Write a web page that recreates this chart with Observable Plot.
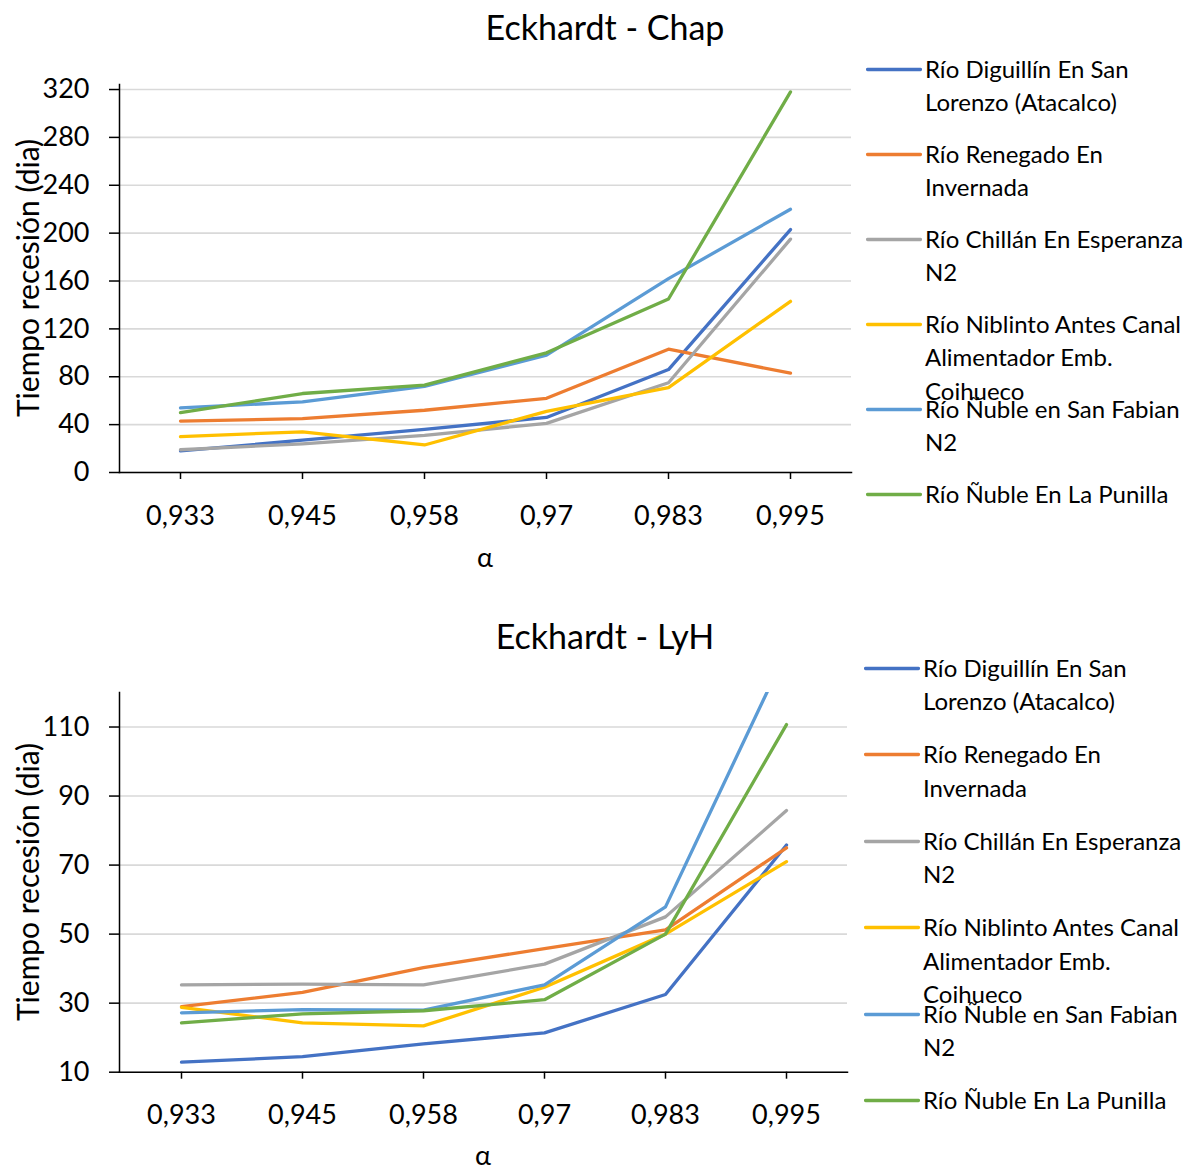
<!DOCTYPE html>
<html>
<head>
<meta charset="utf-8">
<script src="https://cdn.jsdelivr.net/npm/d3@7"></script>
<script src="https://cdn.jsdelivr.net/npm/@observablehq/plot@0.6"></script>
<style>
  html, body { margin: 0; padding: 0; background: #fff; }
  body { font-family: Lato, "Open Sans", sans-serif; color: #000; }
  #root { position: relative; width: 1191px; height: 1174px; overflow: hidden; }
  .chart { position: absolute; left: 0; width: 1191px; }
  .title { position: absolute; left: 0; width: 1210px; text-align: center; font-size: 34px; line-height: 40px; white-space: nowrap; }
  .xlabel { position: absolute; width: 200px; text-align: center; font-size: 27px; line-height: 24px; }
  .ylabel { position: absolute; font-size: 30px; line-height: 34px; white-space: nowrap; transform: translate(-50%, -50%) rotate(-90deg); }
  .legend { position: absolute; }
  .item { position: absolute; left: 0; width: 330px; }
  .item svg { position: absolute; left: 0; top: 0; }
  .item .txt { position: absolute; left: 59px; top: 0; font-size: 24px; line-height: 33.4px; white-space: nowrap; }
  .plotwrap { position: absolute; left: 0; top: 0; }
</style>
</head>
<body>
<div id="root"></div>
<script>
// ---- data ----
const alphas = ["0,933", "0,945", "0,958", "0,97", "0,983", "0,995"];

const seriesNames = [
  "Río Diguillín En San Lorenzo (Atacalco)",
  "Río Renegado En Invernada",
  "Río Chillán En Esperanza N2",
  "Río Niblinto Antes Canal Alimentador Emb. Coihueco",
  "Río Ñuble en San Fabian N2",
  "Río Ñuble En La Punilla"
];
const legendLines = [
  ["Río Diguillín En San", "Lorenzo (Atacalco)"],
  ["Río Renegado En", "Invernada"],
  ["Río Chillán En Esperanza", "N2"],
  ["Río Niblinto Antes Canal", "Alimentador Emb.", "Coihueco"],
  ["Río Ñuble en San Fabian", "N2"],
  ["Río Ñuble En La Punilla"]
];
const seriesColors = ["#4472C4", "#ED7D31", "#A5A5A5", "#FFC000", "#5B9BD5", "#70AD47"];

// Eckhardt - Chap
const chapDiguillin = [18, 27, 36, 46, 86, 203];
const chapRenegado  = [43, 45, 52, 62, 103, 83];
const chapChillan   = [19, 24, 31, 41, 75, 195];
const chapNiblinto  = [30, 34, 23, 51, 71, 143];
const chapNubleSF   = [54, 59, 72, 98, 162, 220];
const chapNubleLP   = [50, 66, 73, 100, 145, 318];
const chapTicks = [0, 40, 80, 120, 160, 200, 240, 280, 320];

// Eckhardt - LyH
const lyhDiguillin = [12.9, 14.5, 18.2, 21.4, 32.5, 75.8];
const lyhRenegado  = [29, 33.1, 40.3, 45.8, 51.2, 75];
const lyhChillan   = [35.3, 35.5, 35.3, 41.3, 55, 85.8];
const lyhNiblinto  = [28.8, 24.3, 23.4, 34.6, 50, 71];
const lyhNubleSF   = [27.2, 28.1, 28, 35.3, 57.9, 132];
const lyhNubleLP   = [24.3, 26.9, 27.8, 31, 50, 110.7];
const lyhTicks = [10, 30, 50, 70, 90, 110];

function toRows(seriesArrays) {
  const rows = [];
  seriesArrays.forEach((arr, si) => {
    arr.forEach((v, i) => rows.push({series: seriesNames[si], alpha: alphas[i], value: v}));
  });
  return rows;
}

function buildChart(cfg) {
  const div = document.createElement("div");
  div.className = "chart";
  div.style.top = cfg.top + "px";
  div.style.height = cfg.height + "px";

  const rows = toRows(cfg.series);
  const plot = Plot.plot({
    width: 860,
    height: cfg.height,
    marginLeft: 119,
    marginRight: cfg.marginRight,
    marginTop: 84,
    marginBottom: cfg.marginBottom,
    style: {fontFamily: "Lato, sans-serif", fontSize: "27px", color: "#000", background: "transparent", overflow: "visible"},
    x: {type: "point", domain: alphas, padding: 0.5},
    y: {domain: cfg.yDomain},
    color: {domain: seriesNames, range: seriesColors},
    marks: [
      Plot.gridY(cfg.ticks, {stroke: "#d9d9d9", strokeOpacity: 1, strokeWidth: 1.6}),
      Plot.axisY(cfg.ticks, {tickSize: 10, tickPadding: 20, label: null, stroke: "#000", strokeWidth: 1.5, fontSize: 27}),
      Plot.axisX({tickSize: 7, tickPadding: 26, label: null, stroke: "#000", strokeWidth: 1.5, fontSize: 27}),
      Plot.frame({anchor: "left", stroke: "#000", strokeWidth: 1.5}),
      Plot.frame({anchor: "bottom", stroke: "#000", strokeWidth: 1.5}),
      Plot.line(rows, {x: "alpha", y: "value", z: "series", stroke: "series", strokeWidth: 3.3,
        strokeLinecap: "round", strokeLinejoin: "round", clip: true})
    ]
  });
  const wrap = document.createElement("div");
  wrap.className = "plotwrap";
  wrap.appendChild(plot);
  div.appendChild(wrap);

  const title = document.createElement("div");
  title.className = "title";
  title.style.top = cfg.titleTop + "px";
  title.textContent = cfg.title;
  div.appendChild(title);

  const xl = document.createElement("div");
  xl.className = "xlabel";
  xl.style.left = (cfg.xLabelCenter - 100) + "px";
  xl.style.top = cfg.xLabelTop + "px";
  xl.textContent = "α";
  div.appendChild(xl);

  const yl = document.createElement("div");
  yl.className = "ylabel";
  yl.style.left = "27px";
  yl.style.top = cfg.yLabelCenter + "px";
  yl.textContent = "Tiempo recesión (dia)";
  div.appendChild(yl);

  const lg = document.createElement("div");
  lg.className = "legend";
  lg.style.left = cfg.legendLeft + "px";
  lg.style.top = cfg.legendTop + "px";
  seriesNames.forEach((name, i) => {
    const it = document.createElement("div");
    it.className = "item";
    it.style.top = (i * cfg.legendStep) + "px";
    it.innerHTML = `<svg width="56" height="34"><line x1="1.5" x2="54.5" y1="17.5" y2="17.5" stroke="${seriesColors[i]}" stroke-width="3.3" stroke-linecap="round"/></svg>`;
    const t = document.createElement("div");
    t.className = "txt";
    t.innerHTML = legendLines[i].join("<br>");
    it.appendChild(t);
    lg.appendChild(it);
  });
  div.appendChild(lg);
  return div;
}

const root = document.getElementById("root");
root.appendChild(buildChart({
  top: 0, height: 590, marginRight: 9, marginBottom: 118,
  yDomain: [0, 324.2], ticks: chapTicks,
  series: [chapDiguillin, chapRenegado, chapChillan, chapNiblinto, chapNubleSF, chapNubleLP],
  title: "Eckhardt - Chap", titleTop: 7,
  xLabelCenter: 485, xLabelTop: 545,
  yLabelCenter: 278,
  legendLeft: 866, legendTop: 52, legendStep: 85
}));
root.appendChild(buildChart({
  top: 608, height: 566, marginRight: 13, marginBottom: 102.3,
  yDomain: [10, 120], ticks: lyhTicks,
  series: [lyhDiguillin, lyhRenegado, lyhChillan, lyhNiblinto, lyhNubleSF, lyhNubleLP],
  title: "Eckhardt - LyH", titleTop: 8,
  xLabelCenter: 483, xLabelTop: 535,
  yLabelCenter: 274,
  legendLeft: 864, legendTop: 43, legendStep: 86.4
}));
</script>
</body>
</html>
